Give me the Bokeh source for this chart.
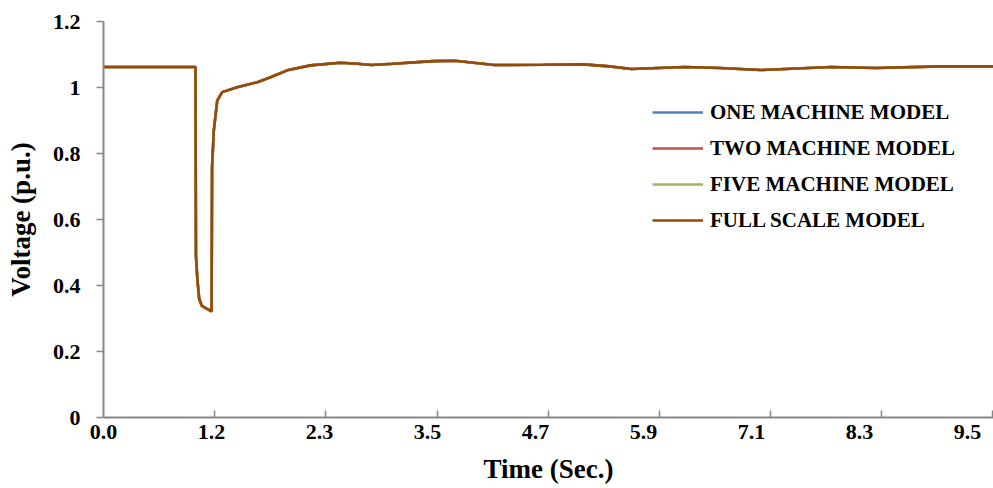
from bokeh.plotting import figure
from bokeh.models import FixedTicker, Range1d, Legend, LegendItem
from bokeh.embed import file_html
from bokeh.resources import INLINE

# ---- data ----
time_s = [0.0, 1.0, 1.005, 1.02, 1.04, 1.07, 1.12, 1.175, 1.18, 1.199, 1.236, 1.29,
          1.453, 1.671, 1.815, 1.997, 2.25, 2.574, 2.76, 2.91, 3.15, 3.58, 3.82,
          4.25, 4.78, 5.22, 5.50, 5.74, 6.32, 6.70, 7.14, 7.91, 8.39, 9.11, 9.67]
voltage = [1.062, 1.062, 0.49, 0.42, 0.36, 0.338, 0.33, 0.322, 0.76, 0.87, 0.96, 0.986,
           1.001, 1.016, 1.031, 1.052, 1.067, 1.075, 1.072, 1.068, 1.072, 1.080, 1.081,
           1.068, 1.069, 1.070, 1.064, 1.056, 1.062, 1.059, 1.053, 1.062, 1.059, 1.064, 1.064]

series_names = ["ONE MACHINE MODEL", "TWO MACHINE MODEL", "FIVE MACHINE MODEL", "FULL SCALE MODEL"]
series_colors = ["#4F81BD", "#C0504D", "#9BBB59", "#984807"]

x_tick_labels = ["0.0", "1.2", "2.3", "3.5", "4.7", "5.9", "7.1", "8.3", "9.5"]
label_step = 1.174
tick_step = 1.2085
x_max = 9.674

label_pos = [i * label_step for i in range(len(x_tick_labels))]
tick_pos = [(i + 1) * tick_step for i in range(8)]

FONT = "Liberation Serif"

p = figure(width=993, height=488, output_backend="svg", toolbar_location=None,
           x_range=Range1d(0, x_max), y_range=Range1d(0, 1.2),
           min_border_left=103, min_border_right=0, min_border_top=21, min_border_bottom=71)
p.outline_line_color = None
p.xgrid.visible = False
p.ygrid.visible = False
p.background_fill_color = "white"

renderers = []
for name, col in zip(series_names, series_colors):
    r = p.line(time_s, voltage, line_color=col, line_width=2.6)
    renderers.append(r)

# axes
ax = p.xaxis[0]
ax.ticker = FixedTicker(ticks=label_pos, minor_ticks=tick_pos)
ax.major_label_overrides = {lp: lab for lp, lab in zip(label_pos, x_tick_labels)}
ax.major_tick_in = 0
ax.major_tick_out = 0
ax.minor_tick_in = 7
ax.minor_tick_out = 0
ax.minor_tick_line_color = "#868686"
ax.minor_tick_line_width = 1.5
ax.axis_line_color = "#868686"
ax.axis_line_width = 2
ax.major_label_text_font = FONT
ax.major_label_text_font_style = "bold"
ax.major_label_text_font_size = "22px"
ax.major_label_text_color = "black"
ax.major_label_standoff = 7
ax.axis_label = "Time (Sec.)"
ax.axis_label_text_font = FONT
ax.axis_label_text_font_style = "bold"
ax.axis_label_text_font_size = "27px"
ax.axis_label_text_color = "black"
ax.axis_label_standoff = 12

ay = p.yaxis[0]
ay.ticker = FixedTicker(ticks=[0, 0.2, 0.4, 0.6, 0.8, 1.0, 1.2], minor_ticks=[])
ay.major_label_overrides = {0: "0", 0.2: "0.2", 0.4: "0.4", 0.6: "0.6", 0.8: "0.8", 1.0: "1", 1.2: "1.2"}
ay.major_tick_in = 0
ay.major_tick_out = 7
ay.major_tick_line_color = "#868686"
ay.major_tick_line_width = 1.5
ay.axis_line_color = "#868686"
ay.axis_line_width = 2
ay.major_label_text_font = FONT
ay.major_label_text_font_style = "bold"
ay.major_label_text_font_size = "22px"
ay.major_label_text_color = "black"
ay.major_label_standoff = 16
ay.axis_label = "Voltage (p.u.)"
ay.axis_label_text_font = FONT
ay.axis_label_text_font_style = "bold"
ay.axis_label_text_font_size = "27px"
ay.axis_label_text_color = "black"
ay.axis_label_standoff = 14

legend = Legend(items=[LegendItem(label=n, renderers=[r]) for n, r in zip(series_names, renderers)],
                location=(549, 179), padding=0, margin=0, spacing=0,
                glyph_width=51, glyph_height=36, label_standoff=7, label_height=36,
                background_fill_alpha=0, border_line_color=None,
                label_text_font=FONT, label_text_font_style="bold",
                label_text_font_size="21px", label_text_color="black")
p.add_layout(legend)

open("out.html", "w").write(file_html(p, INLINE))
